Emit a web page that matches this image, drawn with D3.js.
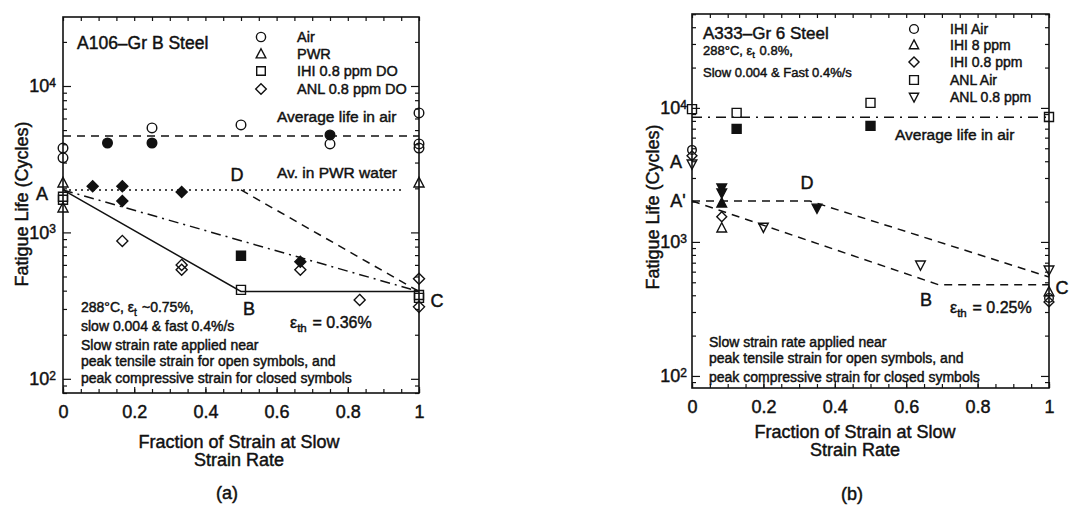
<!DOCTYPE html>
<html>
<head>
<meta charset="utf-8">
<script src="https://cdn.jsdelivr.net/npm/d3@7"></script>
<style>
  html, body { margin: 0; padding: 0; background: #fff; }
  svg { display: block; }
</style>
</head>
<body>
<svg id="chart" width="1069" height="512"></svg>
<script>
// ---------------- data ----------------
const xTickValues = [0, 0.2, 0.4, 0.6, 0.8, 1];
const yDecades = [100, 1000, 10000];

// (a) A106-Gr B steel: [fraction of strain at slow rate, fatigue life]
const aAirOpen      = [[0, 3770], [0, 3230], [0.25, 5170], [0.5, 5420], [0.75, 4020], [1, 6550], [1, 4020], [1, 3770]];
const aAirClosed    = [[0.125, 4080], [0.25, 4080], [0.75, 4630]];
const aPwrOpen      = [[0, 2180], [0, 1470], [1, 2180]];
const aIhiOpen      = [[0, 1750], [0, 1670], [0.5, 405], [1, 374], [1, 357]];
const aIhiClosed    = [[0.5, 692]];
const aAnlOpen      = [[1/6, 875], [1/3, 600], [1/3, 555], [2/3, 555], [5/6, 346], [1, 482], [1, 310]];
const aAnlClosed    = [[1/12, 2070], [1/6, 2070], [1/6, 1640], [1/3, 1890], [2/3, 630]];
const aAvgAir       = [[0, 4560], [1, 4560]];
const aAvgPwr       = [[0, 1950], [0.96, 1950]];
const aLineDC       = [[0.5, 1950], [1, 395]];
const aLineAC       = [[0, 1950], [1, 395]];
const aLineABC      = [[0, 1950], [0.5, 395], [1, 395]];
const aLegend       = ["Air", "PWR", "IHI 0.8 ppm DO", "ANL 0.8 ppm DO"];

// (b) A333-Gr 6 steel
const bIhiAirOpen   = [[0, 4860], [1, 382]];
const bIhi8Open     = [[1/12, 1270], [1, 424]];
const bIhi8Closed   = [[1/12, 1950]];
const bIhi08Open    = [[0, 4390], [1/12, 1540], [1, 357]];
const bAnlAirOpen   = [[0, 9800], [0.125, 9180], [0.5, 10900], [1, 8560]];
const bAnlAirClosed = [[0.125, 6970], [0.5, 7350]];
const bAnl08Open    = [[0, 3820], [0.2, 1290], [0.64, 673], [1, 618]];
const bAnl08Closed  = [[1/12, 2530], [1/12, 2320], [0.35, 1790]];
const bAvgAir       = [[0, 8500], [1, 8500]];
const bLineADC      = [[0, 2020], [0.33, 2020], [1, 548]];
const bLineABC      = [[0, 2020], [0.69, 480], [1, 480]];
const bLegend       = ["IHI Air", "IHI 8 ppm", "IHI 0.8 ppm", "ANL Air", "ANL 0.8 ppm"];

// ---------------- drawing helpers ----------------
const FONT = '"Liberation Sans", Arial, Helvetica, sans-serif';
const INK = "#111";
const TEXT_STROKE = 0.45;
const svg = d3.select("#chart").attr("font-family", FONT);

function symbolPath(type, s) {
  const p = d3.path();
  if (type === "circle") { p.moveTo(s, 0); p.arc(0, 0, s, 0, 2 * Math.PI); }
  else if (type === "square") { p.rect(-s, -s, 2 * s, 2 * s); }
  else if (type === "triUp") { p.moveTo(0, -s * 1.15); p.lineTo(s * 1.05, s * 0.85); p.lineTo(-s * 1.05, s * 0.85); p.closePath(); }
  else if (type === "triDown") { p.moveTo(0, s * 1.15); p.lineTo(s * 1.05, -s * 0.85); p.lineTo(-s * 1.05, -s * 0.85); p.closePath(); }
  else if (type === "diamond") { p.moveTo(0, -s * 1.15); p.lineTo(s * 1.15, 0); p.lineTo(0, s * 1.15); p.lineTo(-s * 1.15, 0); p.closePath(); }
  return p.toString();
}

function markers(g, x, y, pts, type, filled, s = 4.8) {
  g.append("g").selectAll("path").data(pts).join("path")
    .attr("transform", d => `translate(${x(d[0])},${y(d[1])})`)
    .attr("d", symbolPath(type, s))
    .attr("fill", filled ? INK : "none")
    .attr("stroke", INK)
    .attr("stroke-width", 1.4);
}

function curve(g, x, y, pts, dash, w = 1.5) {
  g.append("path").datum(pts)
    .attr("d", d3.line().x(d => x(d[0])).y(d => y(d[1])))
    .attr("fill", "none").attr("stroke", INK).attr("stroke-width", w)
    .attr("stroke-dasharray", dash);
}

// parts: array of strings or {t} for a subscript
function text(g, px, py, parts, size, anchor = "start") {
  const t = g.append("text").attr("x", px).attr("y", py).attr("dy", "0.35em")
    .attr("font-size", size).attr("text-anchor", anchor).attr("fill", INK)
    .attr("stroke", INK).attr("stroke-width", TEXT_STROKE);
  [].concat(parts).forEach(p => {
    if (typeof p === "string") t.append("tspan").text(p);
    else {
      t.append("tspan").attr("dy", size * 0.3).attr("font-size", size * 0.72).text(p.t);
      t.append("tspan").attr("dy", -size * 0.3).text("\u200A");
    }
  });
  return t;
}

function drawFrame(g, P, x, y) {
  const xMinor = d3.range(0, 1.0001, 0.05);
  const yMinor = y.ticks().filter(v => !yDecades.includes(v));
  const styleAxis = sel => {
    sel.select(".domain").remove();
    sel.selectAll(".tick line").attr("stroke", INK).attr("stroke-width", 1.2);
  };
  // x ticks, bottom and top, pointing inward
  g.append("g").attr("transform", `translate(0,${P.bottom})`)
    .call(d3.axisBottom(x).tickValues(xMinor).tickSize(-4).tickFormat("")).call(styleAxis);
  g.append("g").attr("transform", `translate(0,${P.top})`)
    .call(d3.axisTop(x).tickValues(xMinor).tickSize(-4).tickFormat("")).call(styleAxis);
  const xLab = g.append("g").attr("transform", `translate(0,${P.bottom})`)
    .call(d3.axisBottom(x).tickValues(xTickValues).tickSize(-6).tickPadding(12).tickFormat(d3.format("~g")))
    .call(styleAxis);
  xLab.selectAll(".tick text").attr("font-family", FONT).attr("font-size", 18).attr("fill", INK)
    .attr("stroke", INK).attr("stroke-width", TEXT_STROKE);

  // y ticks, left and right, pointing inward
  g.append("g").attr("transform", `translate(${P.left},0)`)
    .call(d3.axisLeft(y).tickValues(yMinor).tickSize(-4).tickFormat("")).call(styleAxis);
  g.append("g").attr("transform", `translate(${P.right},0)`)
    .call(d3.axisRight(y).tickValues(yMinor).tickSize(-4).tickFormat("")).call(styleAxis);
  g.append("g").attr("transform", `translate(${P.right},0)`)
    .call(d3.axisRight(y).tickValues(yDecades).tickSize(-8).tickFormat("")).call(styleAxis);
  const yLab = g.append("g").attr("transform", `translate(${P.left},0)`)
    .call(d3.axisLeft(y).tickValues(yDecades).tickSize(-8).tickPadding(P.yPad).tickFormat(""))
    .call(styleAxis);
  yLab.selectAll(".tick text").each(function (d) {
    const t = d3.select(this).attr("font-family", FONT).attr("font-size", 18).attr("fill", INK)
      .attr("stroke", INK).attr("stroke-width", TEXT_STROKE);
    t.append("tspan").text("10");
    t.append("tspan").attr("dy", "-0.45em").attr("font-size", 12).text(Math.round(Math.log10(d)));
  });

  g.append("rect").attr("x", P.left).attr("y", P.top)
    .attr("width", P.right - P.left).attr("height", P.bottom - P.top)
    .attr("fill", "none").attr("stroke", INK).attr("stroke-width", 1.6);

  // axis titles
  text(g, P.yTitleX, P.yTitleY, "Fatigue Life (Cycles)", 18, "middle")
    .attr("transform", `rotate(-90,${P.yTitleX},${P.yTitleY})`);
  text(g, P.xTitleX, P.xTitleY, "Fraction of Strain at Slow", 18, "middle");
  text(g, P.xTitleX, P.xTitleY + 18, "Strain Rate", 18, "middle");
}

// ---------------- panel (a) ----------------
{
  const P = { left: 63, right: 419, top: 17, bottom: 393, yPad: 7,
              yTitleX: 22, yTitleY: 204, xTitleX: 239, xTitleY: 442 };
  const x = d3.scaleLinear().domain([0, 1]).range([P.left, P.right]);
  const y = d3.scaleLog().domain([80, 29600]).range([P.bottom, P.top]);
  const g = svg.append("g");
  drawFrame(g, P, x, y);

  curve(g, x, y, aAvgAir, "8,6");
  curve(g, x, y, aAvgPwr, "2,4");
  curve(g, x, y, aLineDC, "8,6");
  curve(g, x, y, aLineAC, "10,5,2,5");
  curve(g, x, y, aLineABC, null);

  markers(g, x, y, aAirOpen, "circle", false);
  markers(g, x, y, aAirClosed, "circle", true);
  markers(g, x, y, aPwrOpen, "triUp", false);
  markers(g, x, y, aIhiOpen, "square", false, 4.5);
  markers(g, x, y, aIhiClosed, "square", true, 4.5);
  markers(g, x, y, aAnlOpen, "diamond", false);
  markers(g, x, y, aAnlClosed, "diamond", true);

  text(g, 77, 43, "A106\u2013Gr B Steel", 17.5);
  const legTypes = ["circle", "triUp", "square", "diamond"];
  const legY = [37, 54, 71, 89];
  aLegend.forEach((name, i) => {
    g.append("path").attr("transform", `translate(261,${legY[i]})`)
      .attr("d", symbolPath(legTypes[i], legTypes[i] === "square" ? 4.3 : 4.6))
      .attr("fill", "none").attr("stroke", INK).attr("stroke-width", 1.4);
    text(g, 297, legY[i], name, 14.5);
  });
  text(g, 277, 117, "Average life in air", 15.5);
  text(g, 277, 173, "Av. in PWR water", 15.5);
  text(g, 237, 175, "D", 18, "middle");
  text(g, 42, 194, "A", 18, "middle");
  text(g, 249, 309, "B", 18, "middle");
  text(g, 437, 301, "C", 18, "middle");
  text(g, 290, 322, ["\u03B5", { t: "th" }, " = 0.36%"], 16);
  text(g, 81, 307, ["288\u00B0C, \u03B5", { t: "t" }, " ~0.75%,"], 14);
  text(g, 81, 326, "slow 0.004 & fast 0.4%/s", 14);
  text(g, 81, 345, "Slow strain rate applied near", 14);
  text(g, 81, 361, "peak tensile strain for open symbols, and", 14);
  text(g, 81, 378, "peak compressive strain for closed symbols", 14);
  text(g, 227, 493, "(a)", 18, "middle");
}

// ---------------- panel (b) ----------------
{
  const P = { left: 692, right: 1049, top: 14, bottom: 388, yPad: 5,
              yTitleX: 653, yTitleY: 207, xTitleX: 855, xTitleY: 432 };
  const x = d3.scaleLinear().domain([0, 1]).range([P.left, P.right]);
  const y = d3.scaleLog().domain([81.3, 50200]).range([P.bottom, P.top]);
  const g = svg.append("g");
  drawFrame(g, P, x, y);

  curve(g, x, y, bAvgAir, "10,6,2,6");
  curve(g, x, y, bLineADC, "8,6");
  curve(g, x, y, bLineABC, "8,6");

  markers(g, x, y, bIhiAirOpen, "circle", false, 4.3);
  markers(g, x, y, bIhi8Open, "triUp", false, 4.6);
  markers(g, x, y, bIhi8Closed, "triUp", true, 4.6);
  markers(g, x, y, bIhi08Open, "diamond", false, 4.3);
  markers(g, x, y, bAnlAirOpen, "square", false, 4.5);
  markers(g, x, y, bAnlAirClosed, "square", true, 4.5);
  markers(g, x, y, bAnl08Open, "triDown", false, 4.6);
  markers(g, x, y, bAnl08Closed, "triDown", true, 4.6);

  text(g, 703, 33, "A333\u2013Gr 6 Steel", 17);
  text(g, 703, 50, ["288\u00B0C, \u03B5", { t: "t" }, " 0.8%,"], 13);
  text(g, 703, 72, "Slow 0.004 & Fast 0.4%/s", 13);
  const legTypes = ["circle", "triUp", "diamond", "square", "triDown"];
  const legY = [29, 45, 62, 80, 97];
  bLegend.forEach((name, i) => {
    g.append("path").attr("transform", `translate(914,${legY[i]})`)
      .attr("d", symbolPath(legTypes[i], 4.4))
      .attr("fill", "none").attr("stroke", INK).attr("stroke-width", 1.4);
    text(g, 950, legY[i], name, 14);
  });
  text(g, 895, 135, "Average life in air", 15.5);
  text(g, 676, 162, "A", 18, "middle");
  text(g, 678, 201, "A'", 18, "middle");
  text(g, 807, 183, "D", 18, "middle");
  text(g, 926, 300, "B", 18, "middle");
  text(g, 1062, 288, "C", 18, "middle");
  text(g, 950, 307, ["\u03B5", { t: "th" }, " = 0.25%"], 16);
  text(g, 709, 342, "Slow strain rate applied near", 14);
  text(g, 709, 358, "peak tensile strain for open symbols, and", 14);
  text(g, 709, 377, "peak compressive strain for closed symbols", 14);
  text(g, 852, 494, "(b)", 18, "middle");
}
</script>
</body>
</html>
